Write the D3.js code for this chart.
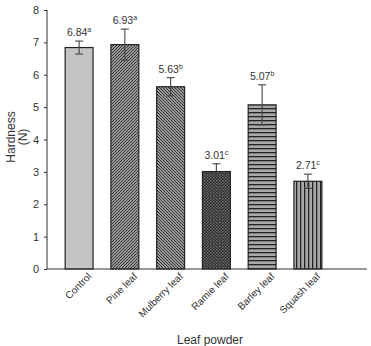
<!DOCTYPE html>
<html><head><meta charset="utf-8">
<script src="https://cdn.jsdelivr.net/npm/d3@7"></script>
<style>body{margin:0;background:#fff}svg{display:block}text{font-family:"Liberation Sans",Arial,sans-serif;fill:#333}</style>
</head><body><svg id="c" width="371" height="346"></svg>
<script>
const categories = ["Control","Pine leaf","Mulberry leaf","Ramie leaf","Barley leaf","Squash leaf"];
const values = [6.84, 6.93, 5.63, 3.01, 5.07, 2.71];
const errors = [0.20, 0.48, 0.28, 0.24, 0.62, 0.22];
const letters = ["a","a","b","c","b","c"];
const yTicks = [0,1,2,3,4,5,6,7,8];
const patterns = ["solid","diagUp","diagDown","check","horiz","vert"];

const svg = d3.select("#c");
const axL = 47, axR = 367, y0 = 269, y8 = 10;
const y = d3.scaleLinear().domain([0,8]).range([y0,y8]);
const x = d3.scaleBand().domain(categories).range([56,331]).paddingInner(0.39).paddingOuter(0.2);

const defs = svg.append("defs");
function pat(id, size, draw, bg){
  const p = defs.append("pattern").attr("id",id).attr("patternUnits","userSpaceOnUse").attr("width",size).attr("height",size);
  p.append("rect").attr("width",size).attr("height",size).attr("fill",bg);
  draw(p);
}
pat("diagUp",3,p=>{p.append("path").attr("d","M-1,1 L1,-1 M0,3 L3,0 M2,4 L4,2").attr("stroke","#333").attr("stroke-width",1);},"#9a9a9a");
pat("diagDown",3,p=>{p.append("path").attr("d","M-1,2 L1,4 M0,0 L3,3 M2,-1 L4,1").attr("stroke","#333").attr("stroke-width",1);},"#9a9a9a");
pat("check",3,p=>{p.append("rect").attr("width",1.5).attr("height",1.5).attr("fill","#777");p.append("rect").attr("x",1.5).attr("y",1.5).attr("width",1.5).attr("height",1.5).attr("fill","#666");},"#222");
pat("horiz",4,p=>{p.append("rect").attr("y",0).attr("width",4).attr("height",1.3).attr("fill","#222");},"#a8a8a8");
pat("vert",4,p=>{p.append("rect").attr("x",0).attr("width",1.3).attr("height",4).attr("fill","#222");},"#a8a8a8");

const fillOf = k => k==="solid" ? "#c4c4c4" : `url(#${k})`;

// bars
svg.append("g").selectAll("rect").data(categories).join("rect")
  .attr("x",d=>x(d)).attr("width",x.bandwidth())
  .attr("y",(d,i)=>y(values[i])).attr("height",(d,i)=>y(0)-y(values[i]))
  .attr("fill",(d,i)=>fillOf(patterns[i])).attr("stroke","#222").attr("stroke-width",1.2);

// error bars
const eg = svg.append("g").attr("stroke","#444").attr("stroke-width",1.1);
categories.forEach((c,i)=>{
  const cx = x(c)+x.bandwidth()/2;
  const t = y(values[i]+errors[i]), b = y(values[i]-errors[i]);
  eg.append("line").attr("x1",cx).attr("x2",cx).attr("y1",t).attr("y2",b);
  eg.append("line").attr("x1",cx-4).attr("x2",cx+4).attr("y1",t).attr("y2",t);
  eg.append("line").attr("x1",cx-4).attr("x2",cx+4).attr("y1",b).attr("y2",b);
  const tx = svg.append("text").attr("x",cx).attr("y",t-5).attr("text-anchor","middle").attr("font-size",10.5);
  tx.append("tspan").text(values[i].toFixed(2));
  tx.append("tspan").attr("font-size",7).attr("dy",-4).text(letters[i]);
});

// y axis
const ya = svg.append("g").attr("transform",`translate(${axL},0)`)
  .call(d3.axisLeft(y).tickValues(yTicks).tickSize(3).tickPadding(5).tickFormat(d3.format("d")));
ya.select(".domain").attr("stroke","#333").attr("d",`M-0,${y8}V${y0}`);
ya.selectAll(".tick line").attr("stroke","#333");
ya.selectAll("text").attr("font-size",11).attr("fill","#333").style("font-family","Liberation Sans, Arial, sans-serif");

// x axis line
svg.append("line").attr("x1",axL).attr("x2",axR).attr("y1",y0).attr("y2",y0).attr("stroke","#333").attr("stroke-width",1);

// x labels
svg.append("g").selectAll("text").data(categories).join("text")
  .attr("transform",d=>`translate(${x(d)+x.bandwidth()/2+13},${y0+8}) rotate(-45)`)
  .attr("text-anchor","end").attr("font-size",10).text(d=>d);

// axis titles
svg.append("text").attr("transform","translate(15,137) rotate(-90)").attr("text-anchor","middle").attr("font-size",12).text("Hardness");
svg.append("text").attr("transform","translate(27,137) rotate(-90)").attr("text-anchor","middle").attr("font-size",12).text("(N)");
svg.append("text").attr("x",210).attr("y",344).attr("text-anchor","middle").attr("font-size",12).text("Leaf powder");
</script></body></html>
